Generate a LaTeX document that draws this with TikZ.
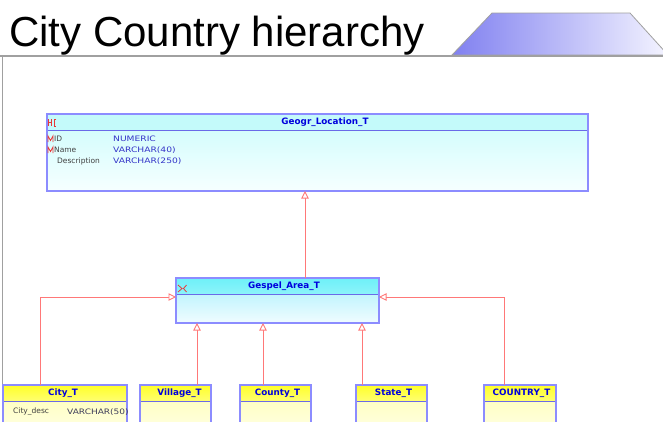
\documentclass[tikz,border=0pt]{standalone}
\usepackage{fontspec}
\setmainfont{DejaVu Sans}
\newfontfamily\titlefont{Liberation Sans}
\usetikzlibrary{arrows.meta,calc}
\definecolor{boxborder}{HTML}{8C8CFF}
\definecolor{hdrlinecol}{HTML}{6A6AE8}
\definecolor{conncol}{HTML}{FF7878}
\definecolor{hdrtext}{HTML}{0000DD}
\definecolor{attrname}{HTML}{404040}
\definecolor{attrtype}{HTML}{3434C8}
\definecolor{keyred}{HTML}{E83838}
\definecolor{framecol}{HTML}{A0A0A0}
\definecolor{cyanA}{HTML}{C4FAFA}
\definecolor{cyanB}{HTML}{CCFCFC}
\definecolor{cyanC}{HTML}{F6FFFF}
\definecolor{aquaA}{HTML}{6EF0F8}
\definecolor{aquaB}{HTML}{8CF4FA}
\definecolor{aquaC}{HTML}{A8F0FC}
\definecolor{aquaD}{HTML}{F0FCFF}
\definecolor{yelA}{HTML}{FFFF28}
\definecolor{yelB}{HTML}{FFFF70}
\definecolor{yelC}{HTML}{FFFFB4}
\definecolor{yelD}{HTML}{FFFFF0}
\definecolor{trapL}{HTML}{8080F0}
\definecolor{trapR}{HTML}{F4F4FF}
\tikzset{
  entity/.style={inner sep=0pt, outer sep=0pt, anchor=north west},
  boxline/.style={draw=boxborder, line width=1.1pt},
  hdrline/.style={draw=hdrlinecol, line width=0.9pt},
  hdrtitle/.style={font=\bfseries\fontsize{8.8}{9}\selectfont, text=hdrtext, inner sep=0pt},
  attr/.style={font=\fontsize{7.5}{8}\selectfont, text=attrname, anchor=west, inner sep=0pt},
  attrt/.style={font=\fontsize{7.5}{8}\selectfont, text=attrtype, anchor=west, inner sep=0pt},
  conn/.style={draw=conncol, line width=0.9pt, -{Triangle[length=7.5pt, width=7.5pt, fill=white]}},
  keyicon/.style={draw=keyred, line width=0.8pt},
}
% #1 name, #2 x, #3 y, #4 width, #5 height, #6 body top, #7 body bottom, #8 header top, #9 header bottom
\newcommand\erbox[9]{%
  \node[entity, minimum width=#4, minimum height=#5, top color=#6, bottom color=#7] (#1) at (#2,#3) {};
  \shade[top color=#8, bottom color=#9] (#1.north west) rectangle ($(#1.north east)+(0,16)$);
  \draw[hdrline] ($(#1.north west)+(0,16)$) -- ($(#1.north east)+(0,16)$);
  \draw[boxline] (#1.north west) rectangle (#1.south east);
}
\begin{document}
\begin{tikzpicture}[x=1pt,y=-1pt]
\clip (0,0) rectangle (663,421);
\fill[white] (0,0) rectangle (663,421);

% title and banner
\node[anchor=base west, inner sep=0pt, font=\titlefont\fontsize{42}{42}\selectfont] (title) at (9,46) {City Country hierarchy};
\shadedraw[left color=trapL, right color=trapR, draw=framecol, line width=0.8pt] (452,55) -- (492,13) -- (630,13) -- (668,55) -- cycle;
\draw[framecol, line width=1.4pt] (0,56) -- (663,56);
\draw[framecol, line width=1.4pt] (2.5,56) -- (2.5,421);

% entities
\erbox{geogr}{47}{114}{541pt}{77pt}{cyanB}{cyanC}{cyanA}{cyanA}
\erbox{gespel}{176}{278}{203pt}{45pt}{aquaC}{aquaD}{aquaA}{aquaB}
\erbox{city}{3}{385}{124pt}{60pt}{yelC}{yelD}{yelA}{yelB}
\erbox{village}{140}{385}{71pt}{60pt}{yelC}{yelD}{yelA}{yelB}
\erbox{county}{240}{385}{71pt}{60pt}{yelC}{yelD}{yelA}{yelB}
\erbox{state}{356}{385}{71pt}{60pt}{yelC}{yelD}{yelA}{yelB}
\erbox{country}{484}{385}{72pt}{60pt}{yelC}{yelD}{yelA}{yelB}

% header titles
\node[hdrtitle] (geogr-t) at ($(geogr.north)+(7.5,8)$) {Geogr\_Location\_T};
\node[hdrtitle] (gespel-t) at ($(gespel.north)+(6.5,8)$) {Gespel\_Area\_T};
\node[hdrtitle] (city-t) at ($(city.north)+(-2,8)$) {City\_T};
\node[hdrtitle] (village-t) at ($(village.north)+(4,8)$) {Village\_T};
\node[hdrtitle] (county-t) at ($(county.north)+(2,8)$) {County\_T};
\node[hdrtitle] (state-t) at ($(state.north)+(2,8)$) {State\_T};
\node[hdrtitle] (country-t) at ($(country.north)+(1.5,8)$) {COUNTRY\_T};

% key icons
\draw[keyicon] (48.5,119) -- (48.5,126) (48.5,122.5) -- (51.5,122.5) (51.5,119) -- (51.5,126)
  (56,119) -- (54,119) -- (54,126) -- (56,126);
\draw[keyicon] (178,285) -- (182,288.5) -- (178,292) (186.5,285) -- (183.5,288.5) -- (186.5,292);
\draw[keyicon] (48,142) -- (48,136) -- (50.5,140.5) -- (53,136) -- (53,142);
\draw[keyicon] (48,153) -- (48,147) -- (50.5,151.5) -- (53,147) -- (53,153);

% attributes
\node[attr] (a-id) at (54,139) {ID};
\node[attrt] (t-id) at (113,139) {\scalebox{1.22}[1]{NUMERIC}};
\node[attr] (a-name) at (54,150) {Name};
\node[attrt] (t-name) at (113,150) {\scalebox{1.22}[1]{VARCHAR(40)}};
\node[attr] (a-desc) at (57,161) {Description};
\node[attrt] (t-desc) at (113,161) {\scalebox{1.22}[1]{VARCHAR(250)}};
\begin{scope}
  \clip (city.north west) rectangle (city.south east);
  \node[attr] (a-city) at (13,412) {City\_desc};
  \node[attrt, text=attrname!80!attrtype] (t-city) at (67,412) {\scalebox{1.2}[1]{VARCHAR(50)}};
\end{scope}

% connectors
\draw[conn] ([xshift=27.5pt]gespel.north) -- ([xshift=27.5pt]gespel.north |- geogr.south);
\draw[conn] ([xshift=37pt]city.north west) |- ([yshift=3.5pt]gespel.west);
\draw[conn] ([xshift=57pt]village.north west) -- ([xshift=57pt]village.north west |- gespel.south);
\draw[conn] ([xshift=23pt]county.north west) -- ([xshift=23pt]county.north west |- gespel.south);
\draw[conn] ([xshift=6pt]state.north west) -- ([xshift=6pt]state.north west |- gespel.south);
\draw[conn] ([xshift=20pt]country.north west) |- ([yshift=3.5pt]gespel.east);
\end{tikzpicture}
\end{document}
